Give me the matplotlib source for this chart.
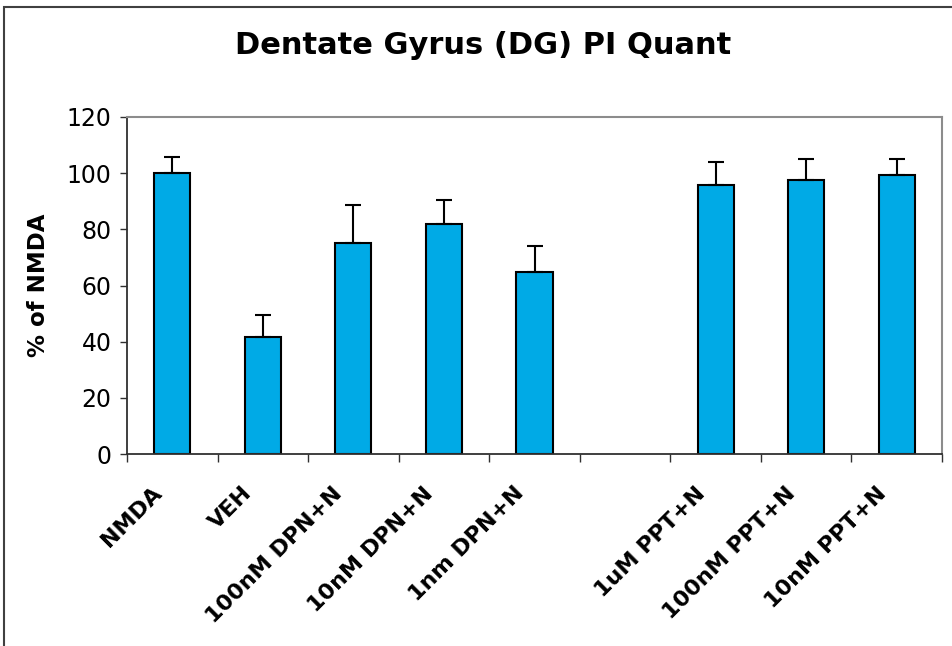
import matplotlib
matplotlib.use("Agg")
import matplotlib.pyplot as plt
from matplotlib.patches import Rectangle
from matplotlib.transforms import ScaledTranslation
import numpy as np

categories = ["NMDA", "VEH", "100nM DPN+N", "10nM DPN+N", "1nm DPN+N", "",
              "1uM PPT+N", "100nM PPT+N", "10nM PPT+N"]
values = [100.0, 41.6, 75.2, 82.0, 64.7, np.nan, 95.9, 97.6, 99.2]
errors = [5.7, 7.9, 13.5, 8.5, 9.5, np.nan, 7.9, 7.3, 5.7]
yticks = [0, 20, 40, 60, 80, 100, 120]

plt.rcParams['font.family'] = ['DejaVu Sans']

fig = plt.figure(figsize=(9.52, 6.46), dpi=100)
ax = fig.add_axes([127/952, 1 - 454/646, 815/952, 337/646])

x = np.arange(len(categories))
ax.bar(x, values, width=0.4, color='#00AAE6', edgecolor='black', linewidth=1.5, zorder=2)
for xi, v, e in zip(x, values, errors):
    if np.isnan(v):
        continue
    ax.errorbar(xi, v, yerr=[[0], [e]], fmt='none', ecolor='black', elinewidth=1.5,
                capsize=6, capthick=1.5, zorder=3)

ax.set_xlim(-0.5, len(categories) - 0.5)
ax.set_ylim(0, 120)
ax.set_yticks(yticks)
ax.set_yticklabels([str(t) for t in yticks], fontsize=17)
ax.tick_params(axis='y', direction='out', length=5, width=1, pad=6, colors='#303030',
               labelcolor='black')

# category boundary ticks
ax.set_xticks(np.arange(-0.5, len(categories) + 0.5, 1.0))
ax.set_xticklabels([])
ax.tick_params(axis='x', which='major', direction='out', length=6, width=1, colors='#303030')
ax.set_xticks(x, minor=True)
ax.set_xticklabels(categories, minor=True, rotation=45, ha='right', va='center',
                   rotation_mode='anchor', fontsize=16, fontweight='bold')
ax.tick_params(axis='x', which='minor', length=0, pad=26)
offset = ScaledTranslation(-0.14, 0, fig.dpi_scale_trans)
for lbl in ax.get_xticklabels(minor=True):
    lbl.set_transform(lbl.get_transform() + offset)

ax.set_ylabel("% of NMDA", fontsize=16.5, fontweight='bold', labelpad=12)

for s in ['left', 'bottom']:
    ax.spines[s].set_color('#303030')
    ax.spines[s].set_linewidth(1.3)
for s in ['top', 'right']:
    ax.spines[s].set_color('#8c8c8c')
    ax.spines[s].set_linewidth(1.5)

fig.text(483/952, 1 - 45/646, "Dentate Gyrus (DG) PI Quant", ha='center', va='center',
         fontsize=22, fontweight='bold')

fig.patches.append(Rectangle((4/952, -0.1), 1.2, 1 - 7/646 + 0.1, transform=fig.transFigure,
                             fill=False, edgecolor='#404040', linewidth=1.5))

fig.savefig("out.png", dpi=100)
